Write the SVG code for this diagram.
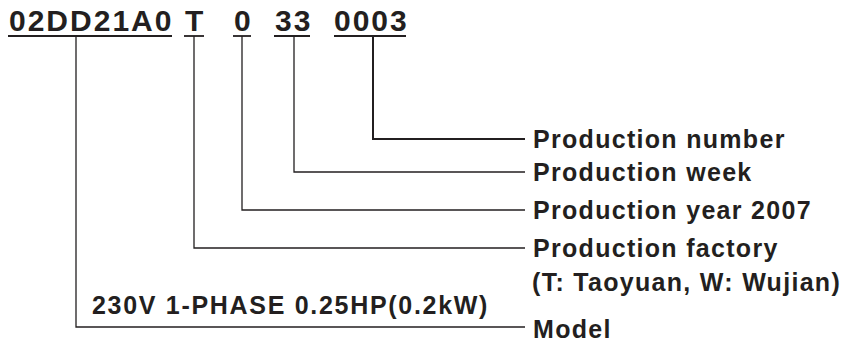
<svg xmlns="http://www.w3.org/2000/svg" width="845" height="342" viewBox="0 0 845 342">
<style>
.code{font-family:"Liberation Sans",Arial,sans-serif;font-weight:bold;font-size:30px;letter-spacing:2px;fill:#231f20}
.lbl{font-family:"Liberation Sans",Arial,sans-serif;font-weight:bold;font-size:25px;letter-spacing:1.3px;fill:#231f20}
.ul{stroke:#231f20;stroke-width:1.8;fill:none}
.ln{stroke:#231f20;stroke-width:1.3;fill:none}
.lnb{stroke:#231f20;stroke-width:2;fill:none}
</style>
<rect width="845" height="342" fill="#fff"/>
<g id="code">
<text class="code" x="9" y="31">02DD21A0</text>
<text class="code" x="185" y="31">T</text>
<text class="code" x="234" y="31">0</text>
<text class="code" x="275" y="31">33</text>
<text class="code" x="334" y="31">0003</text>
<line class="ul" x1="8" y1="36" x2="172" y2="36"/>
<line class="ul" x1="184" y1="36" x2="204" y2="36"/>
<line class="ul" x1="233" y1="36" x2="251" y2="36"/>
<line class="ul" x1="274" y1="36" x2="310" y2="36"/>
<line class="ul" x1="334" y1="36" x2="406" y2="36"/>
</g>
<g id="connectors">
<polyline class="lnb" points="373,36 373,139 525,139"/>
<polyline class="ln" points="294,36 294,172 525,172"/>
<polyline class="ln" points="242,36 242,210 525,210"/>
<polyline class="ln" points="194,36 194,248 525,248"/>
<polyline class="ln" points="76,36 76,327 525,327"/>
</g>
<g id="number"><text class="lbl" x="533" y="148">Production number</text></g>
<g id="week"><text class="lbl" x="533" y="181">Production week</text></g>
<g id="year"><text class="lbl" x="533" y="219">Production year 2007</text></g>
<g id="factory"><text class="lbl" x="533" y="257">Production factory</text>
<text class="lbl" x="532" y="291">(T: Taoyuan, W: Wujian)</text></g>
<g id="model"><text class="lbl" x="533" y="338">Model</text>
<text class="lbl" x="92" y="314" style="letter-spacing:1.7px">230V 1-PHASE 0.25HP(0.2kW)</text></g>
</svg>
